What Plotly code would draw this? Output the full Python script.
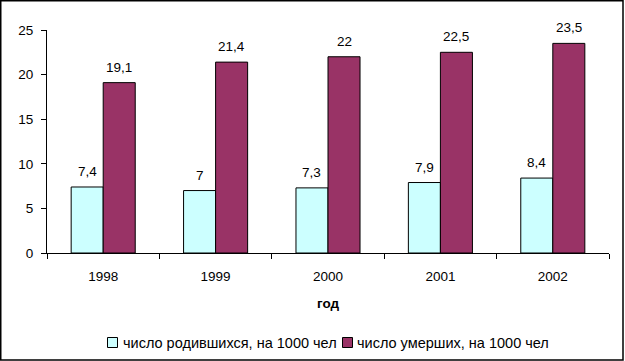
import plotly.graph_objects as go

years = ["1998", "1999", "2000", "2001", "2002"]
births = [7.4, 7.0, 7.3, 7.9, 8.4]
deaths = [19.1, 21.4, 22.0, 22.5, 23.5]
name_births = "число родившихся, на 1000 чел"
name_deaths = "число умерших, на 1000 чел"
x_title = "год"
y_ticks = [0, 5, 10, 15, 20, 25]
col_births = "#CCFFFF"
col_deaths = "#993366"

def fmt(v):
    return f"{v:g}".replace(".", ",")

FONT = "Liberation Sans, Arial, sans-serif"
FS = 13.5
FS_LEG = 14.5

fig = go.Figure()
fig.add_trace(go.Bar(x=years, y=births, name=name_births, showlegend=False,
                     marker=dict(color=col_births, line=dict(color="black", width=1))))
fig.add_trace(go.Bar(x=years, y=deaths, name=name_deaths, showlegend=False,
                     marker=dict(color=col_deaths, line=dict(color="black", width=1))))

W, H = 625, 361
ml, mr, mt, mb = 47, 16, 30, 108
pw = W - ml - mr
ph = H - mt - mb
bargap = 0.43
half = pw / len(years) * (1 - bargap) / 4

def px(x):
    return (x - ml) / pw

def py(y):
    return (H - mb - y) / ph

annotations = []
for i, y in enumerate(years):
    for v, sh in ((births[i], -half), (deaths[i], half)):
        annotations.append(dict(x=i, y=v, xref="x", yref="y", text=fmt(v), showarrow=False,
                                yanchor="bottom", xshift=sh, yshift=6,
                                font=dict(family=FONT, size=FS, color="black")))
annotations.append(dict(x=0.5, y=py(303), xref="paper", yref="paper",
                        text=f"<b>{x_title}</b>", showarrow=False, yanchor="middle",
                        font=dict(family=FONT, size=FS, color="black")))

# manual legend
legend_items = [(name_births, col_births, 107, 121), (name_deaths, col_deaths, 342, 355)]
shapes = [dict(type="rect", xref="paper", yref="paper",
               x0=px(0.75), x1=px(623), y0=py(360), y1=py(0.75),
               line=dict(color="black", width=1.5))]
for name, col, sx, tx in legend_items:
    shapes.append(dict(type="rect", xref="paper", yref="paper",
                       x0=px(sx + 0.5), x1=px(sx + 10.5), y0=py(347.5), y1=py(337.5),
                       fillcolor=col, line=dict(color="black", width=1)))
    annotations.append(dict(x=px(tx), y=py(342.5), xref="paper", yref="paper",
                            text=name, showarrow=False, xanchor="left", yanchor="middle",
                            font=dict(family=FONT, size=FS_LEG, color="black")))

fig.update_layout(
    width=W, height=H,
    margin=dict(l=ml, r=mr, t=mt, b=mb),
    paper_bgcolor="white", plot_bgcolor="white",
    barmode="group", bargap=bargap, bargroupgap=0,
    font=dict(family=FONT, size=FS, color="black"),
    showlegend=False,
    annotations=annotations,
    shapes=shapes,
)
fig.update_xaxes(type="category", range=[-0.5, len(years) - 0.5],
                 showline=True, linecolor="black", linewidth=1,
                 ticks="outside", tickson="boundaries", ticklen=5, tickcolor="black",
                 ticklabelstandoff=11,
                 showgrid=False, zeroline=False, tickfont=dict(size=FS))
fig.update_yaxes(range=[0, 25], tickvals=y_ticks, showline=True, linecolor="black",
                 linewidth=1, ticks="outside", ticklen=5, tickcolor="black",
                 ticklabelstandoff=5,
                 showgrid=False, zeroline=False, tickfont=dict(size=FS))

fig.write_html("out.html", config={"displayModeBar": False},
               post_script="document.body.style.margin='0px';")
